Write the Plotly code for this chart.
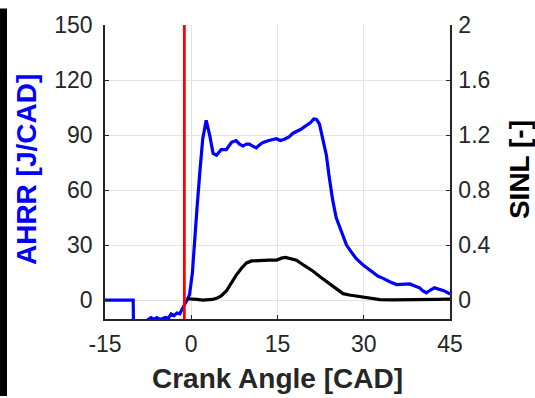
import plotly.graph_objects as go

# AHRR (left axis, J/CAD)
cad_ahrr = [-15, -10.1, -10.0, -9, -8, -7.5, -7, -6.5, -6, -5.5, -5, -4.5, -4, -3.5, -3, -2.5, -2, -1.5, -1, -0.7,
            -0.3, 0.2, 0.6, 1.0, 1.5, 2.0, 2.6, 3.2, 3.8, 4.4, 5.2, 6.1, 7.0, 7.8, 8.4, 9.0, 9.6, 10.1, 10.7, 11.3,
            12.0, 12.5, 13.5, 14.8, 15.5, 16.2, 17.0, 17.7, 19.0, 20.0, 20.8, 21.3, 21.8, 22.3, 22.9, 23.5, 24.0,
            24.6, 25.2, 25.8, 26.4, 27.0, 28.0, 28.7, 29.9, 31.0, 31.6, 32.5, 33.3, 34.5, 35.7, 36.8, 38.0, 39.0,
            39.7, 40.3, 40.9, 41.6, 42.3, 43.0, 43.8, 44.5, 45]
ahrr = [0, 0, -25, -25, -18, -10.5, -9.5, -10.5, -9.5, -10.5, -10, -9.5, -10, -7.5, -8.5, -7, -7.5, -4, -1.5, 0,
        3, 15, 35, 50, 70, 88, 98, 90, 80, 79, 82, 82, 86, 87, 85, 84, 85, 85, 84, 83,
        85, 86, 87, 88, 87, 87.7, 89, 91, 93, 95.3, 97, 98.8, 98.5, 96, 88, 79, 67,
        54.5, 45, 40, 35, 30, 25.5, 22.6, 19.1, 16.5, 14.7, 13, 12, 10, 8.5, 8.6, 8.8, 7.5,
        6.7, 5, 4, 5.5, 6.7, 6, 5.3, 4.2, 3.2]

# SINL (right axis, -)
cad_sinl = [-0.8, 0, 1, 2, 3, 3.7, 4.5, 5.2, 6.1, 7.0, 7.8, 8.7, 9.6, 10.5, 11.9, 13.5, 14.8, 15.7, 16.4, 17.3,
            18.3, 19.7, 21.2, 22.4, 23.5, 25.0, 26.4, 27.5, 28.7, 29.9, 31.5, 32.8, 35, 38, 41, 43, 45]
sinl = [0.01, 0.01, 0.005, 0.0, 0.0, 0.005, 0.015, 0.03, 0.066, 0.13, 0.18, 0.23, 0.27, 0.285, 0.29, 0.29, 0.29,
        0.305, 0.31, 0.30, 0.29, 0.25, 0.21, 0.17, 0.137, 0.09, 0.047, 0.037, 0.03, 0.018, 0.008, 0.003, 0.002,
        0.002, 0.004, 0.006, 0.008]

soi_cad = -1.2

x_ticks = [-15, 0, 15, 30, 45]
x_labels = ["-15", "0", "15", "30", "45"]
y_ticks = [0, 30, 60, 90, 120, 150]
y2_ticks = [0, 0.4, 0.8, 1.2, 1.6, 2]
y2_labels = ["0", "0.4", "0.8", "1.2", "1.6", "2"]

FONT = "Liberation Sans, Arial, Helvetica, sans-serif"
TXT = "#262626"

fig = go.Figure()
fig.add_trace(go.Scatter(x=cad_ahrr, y=ahrr, mode="lines", line=dict(color="#0000ff", width=3.2),
                         showlegend=False, hoverinfo="skip"))
fig.add_trace(go.Scatter(x=cad_sinl, y=sinl, mode="lines", line=dict(color="#000000", width=3.2),
                         yaxis="y2", showlegend=False, hoverinfo="skip"))

fig.add_shape(type="line", xref="x", yref="paper", x0=soi_cad, x1=soi_cad, y0=0, y1=1,
              line=dict(color="#ff0000", width=2.8), layer="above")

# black strip at the left edge of the image
fig.add_shape(type="rect", xref="paper", yref="paper", x0=-105/345, x1=(7-105)/345,
              y0=-79/302, y1=319/302, fillcolor="#000000", line=dict(width=0), layer="above")

axis_common = dict(showline=True, linecolor="#262626", linewidth=1.5, ticks="inside", ticklen=4,
                   tickwidth=1, tickcolor="#262626", zeroline=False,
                   tickfont=dict(family=FONT, size=23, color=TXT))

fig.update_layout(
    width=535, height=398,
    margin=dict(l=105, r=85, t=17, b=79),
    paper_bgcolor="white", plot_bgcolor="white",
    xaxis=dict(range=[-15, 45], tickvals=x_ticks, ticktext=x_labels, showgrid=True, gridcolor="#e3e3e3",
               gridwidth=1, ticklabelstandoff=4, **axis_common),
    yaxis=dict(range=[-10.3, 150], tickvals=y_ticks, showgrid=True, gridcolor="#e3e3e3", gridwidth=1,
               ticklabelstandoff=6, **axis_common),
    yaxis2=dict(range=[-10.3/75, 2], tickvals=y2_ticks, ticktext=y2_labels, overlaying="y", side="right",
                showgrid=False, ticklabelstandoff=2, **axis_common),
    annotations=[
        dict(text="<b>AHRR [J/CAD]</b>", xref="paper", yref="paper", x=(26-105)/345, y=(319-166)/302,
             xanchor="center", yanchor="middle", textangle=-90, showarrow=False,
             font=dict(family=FONT, size=28, color="#0000ff")),
        dict(text="<b>SINL [-]</b>", xref="paper", yref="paper", x=(519-105)/345, y=(319-166)/302,
             xanchor="center", yanchor="middle", textangle=-90, showarrow=False,
             font=dict(family=FONT, size=28, color="#000000")),
        dict(text="<b>Crank Angle [CAD]</b>", xref="paper", yref="paper", x=(277-105)/345, y=(319-380)/302,
             xanchor="center", yanchor="middle", showarrow=False,
             font=dict(family=FONT, size=28, color=TXT)),
    ],
)

fig.write_html("out.html")
